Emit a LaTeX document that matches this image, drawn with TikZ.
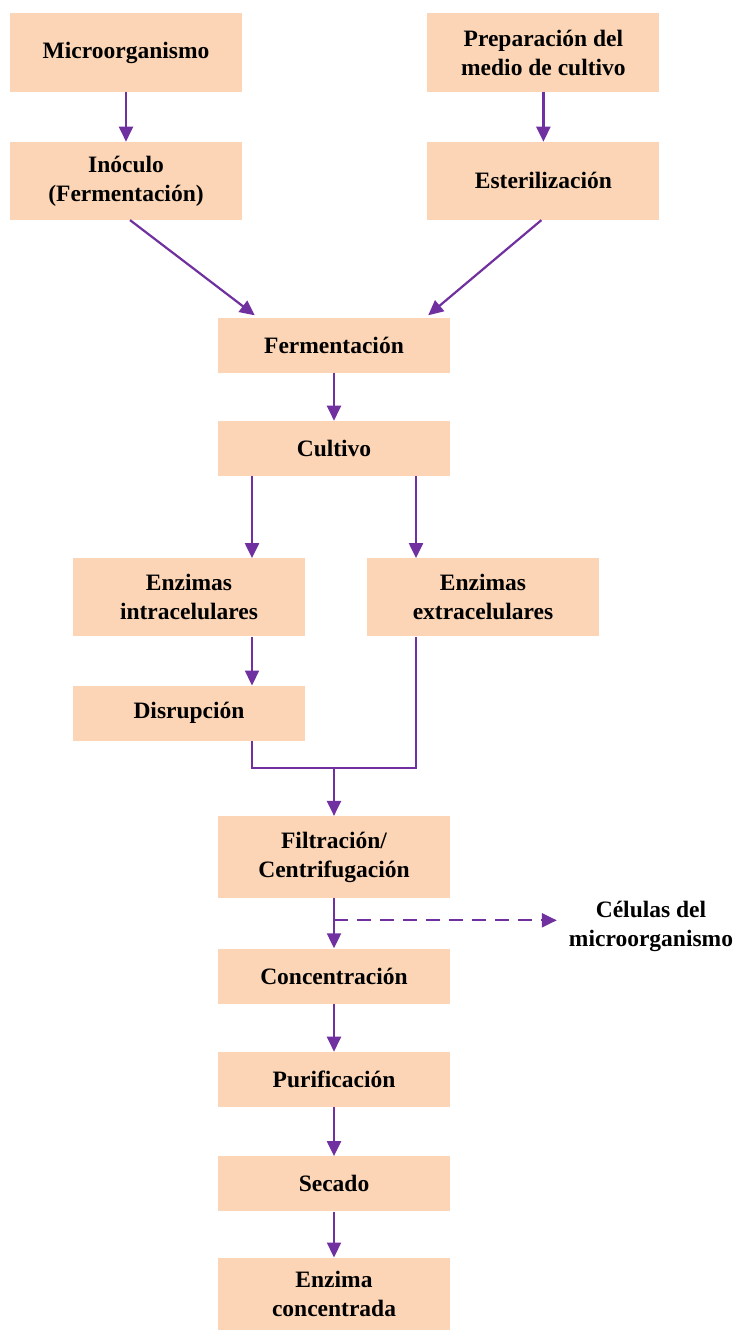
\documentclass[tikz,border=0pt]{standalone}
\usepackage{fontspec}
\setmainfont{Liberation Serif}
\usepackage{tikz}
\usetikzlibrary{positioning}
\usetikzlibrary{calc}
\usetikzlibrary{arrows.meta}

\definecolor{peach}{HTML}{FBD5B5}
\definecolor{violet}{HTML}{7030A0}

\tikzset{
    stage/.style={fill=peach, minimum width=232pt, minimum height=55pt, align=center,
        font=\fontsize{23.5}{29}\selectfont\bfseries, inner sep=2pt},
    tall/.style={minimum height=78pt},
    flow/.style={draw=violet, line width=2.2pt, -{Triangle[length=15pt,width=14pt]}},
    waste/.style={flow, dash pattern=on 14pt off 9pt},
}

\begin{document}
\begin{tikzpicture}[x=1pt, y=1pt]
    \useasboundingbox (0,0) rectangle (737,-1330);

    % top row
    \node [stage, tall] (micro) at (126,-52.5) {Microorganismo};
    \node [stage, tall, right=185pt of micro] (prep) {Preparación del\\medio de cultivo};
    \node [stage, tall, below=50pt of micro] (inoc) {Inóculo\\(Fermentación)};
    \node [stage, tall, below=50pt of prep] (ester) {Esterilización};

    % main column
    \node [stage] (ferm) at (334,-345) {Fermentación};
    \node [stage, below=48pt of ferm] (cult) {Cultivo};

    \node [stage, tall, below=82pt of cult, xshift=-145pt] (intra) {Enzimas\\intracelulares};
    \node [stage, tall, below=82pt of cult, xshift=149pt] (extra) {Enzimas\\extracelulares};
    \node [stage, below=49pt of intra] (disr) {Disrupción};

    \node [stage, minimum height=82pt, below=75pt of disr, xshift=145pt] (filt) {Filtración/\\Centrifugación};
    \node [stage, below=50pt of filt] (conc) {Concentración};
    \node [stage, below=48pt of conc] (puri) {Purificación};
    \node [stage, below=49pt of puri] (seca) {Secado};
    \node [stage, minimum height=72pt, below=46pt of seca] (enz) {Enzima\\concentrada};

    % side output
    \node [font=\fontsize{23.5}{29}\selectfont\bfseries, align=center, inner xsep=12pt, inner ysep=0pt]
        (cel) at (651,-926) {Células del\\microorganismo};

    \coordinate (join) at ($(filt.north)+(0,48pt)$);
    \coordinate (split) at ($(filt.south)+(0,-22pt)$);
    \coordinate (cl) at ($(cult.south)+(-82pt,0)$);
    \coordinate (cr) at ($(cult.south)+(82pt,0)$);

    \draw [flow] (micro) -- (inoc);
    \draw [flow] (prep) -- (ester);
    \draw [flow] ($(inoc.south)+(4pt,0)$) -- ($(ferm.north west)+(37pt,2pt)$);
    \draw [flow] ($(ester.south)+(-2pt,0)$) -- ($(ferm.north east)+(-22pt,2pt)$);
    \draw [flow] (ferm) -- (cult);

    \draw [flow] (cl) -- (cl |- intra.north);
    \draw [flow] (cr) -- (cr |- extra.north);
    \draw [flow] (cl |- intra.south) -- (cl |- disr.north);

    \draw [draw=violet, line width=1.2pt] (cl |- disr.south) |- (join);
    \draw [flow] (cr |- extra.south) |- (join) -- (filt.north);

    \draw [flow] (filt) -- (conc);
    \draw [waste] (split) -- (cel.west |- split);
    \draw [flow] (conc) -- (puri);
    \draw [flow] (puri) -- (seca);
    \draw [flow] (seca) -- (enz);
\end{tikzpicture}
\end{document}
